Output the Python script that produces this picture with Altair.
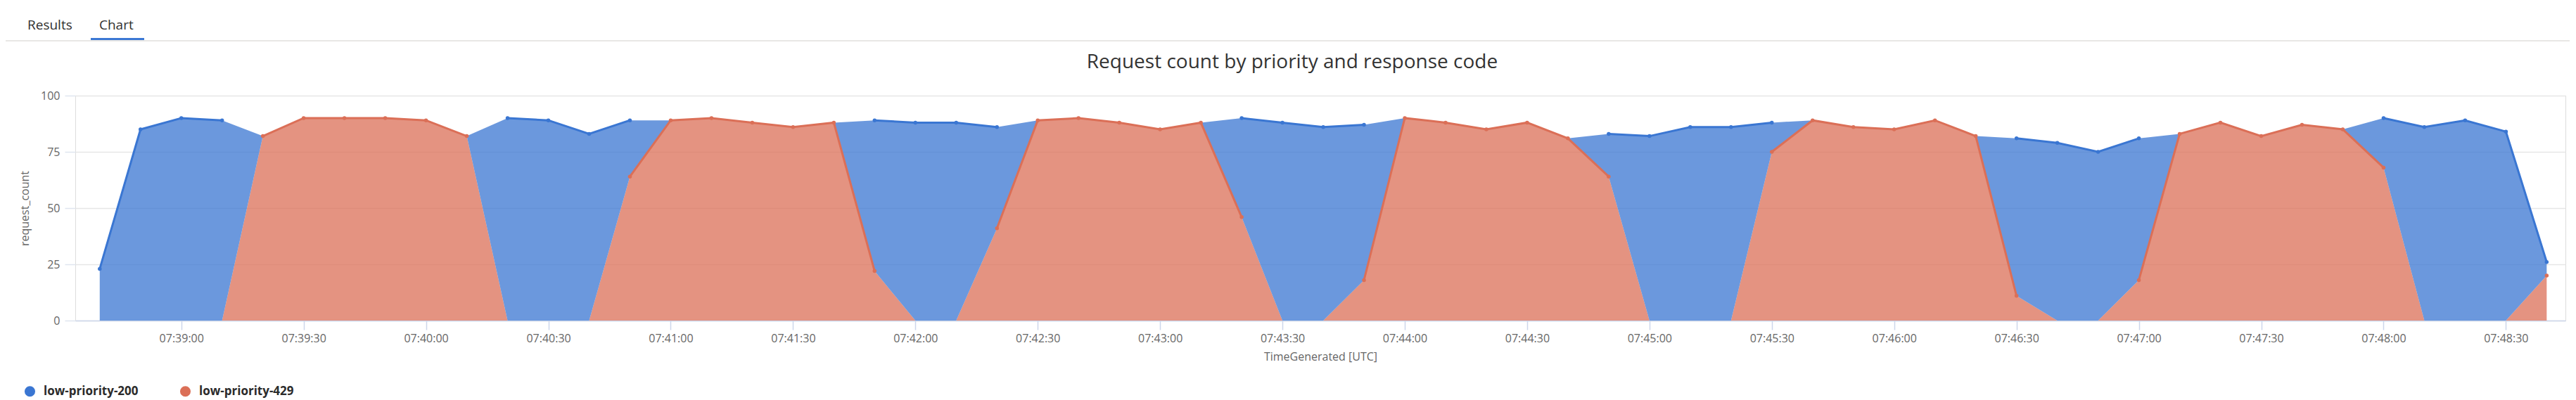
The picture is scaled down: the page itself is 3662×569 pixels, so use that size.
import altair as alt
import pandas as pd

# ---------------- data ----------------
times = [
    "07:38:40", "07:38:50", "07:39:00", "07:39:10", "07:39:20", "07:39:30", "07:39:40", "07:39:50",
    "07:40:00", "07:40:10", "07:40:20", "07:40:30", "07:40:40", "07:40:50", "07:41:00", "07:41:10",
    "07:41:20", "07:41:30", "07:41:40", "07:41:50", "07:42:00", "07:42:10", "07:42:20", "07:42:30",
    "07:42:40", "07:42:50", "07:43:00", "07:43:10", "07:43:20", "07:43:30", "07:43:40", "07:43:50",
    "07:44:00", "07:44:10", "07:44:20", "07:44:30", "07:44:40", "07:44:50", "07:45:00", "07:45:10",
    "07:45:20", "07:45:30", "07:45:40", "07:45:50", "07:46:00", "07:46:10", "07:46:20", "07:46:30",
    "07:46:40", "07:46:50", "07:47:00", "07:47:10", "07:47:20", "07:47:30", "07:47:40", "07:47:50",
    "07:48:00", "07:48:10", "07:48:20", "07:48:30", "07:48:40",
]
low_priority_200 = [
    23, 85, 90, 89, None, None, None, None, None, None,
    90, 89, 83, 25, None, None, None, None, None, 67,
    88, 88, 45, None, None, None, None, None, 44, 88,
    86, 69, None, None, None, None, None, 19, 82, 86,
    86, 13, None, None, None, None, None, 70, 79, 75,
    63, None, None, None, None, None, 22, 86, 89, 84,
    6,
]
low_priority_429 = [
    None, None, None, None, 82, 90, 90, 90, 89, 82,
    None, None, None, 64, 89, 90, 88, 86, 88, 22,
    None, None, 41, 89, 90, 88, 85, 88, 46, None,
    None, 18, 90, 88, 85, 88, 81, 64, None, None,
    None, 75, 89, 86, 85, 89, 82, 11, None, None,
    18, 83, 88, 82, 87, 85, 68, None, None, None,
    20,
]
x_tick_labels = [
    "07:39:00", "07:39:30", "07:40:00", "07:40:30", "07:41:00", "07:41:30", "07:42:00",
    "07:42:30", "07:43:00", "07:43:30", "07:44:00", "07:44:30", "07:45:00", "07:45:30",
    "07:46:00", "07:46:30", "07:47:00", "07:47:30", "07:48:00", "07:48:30",
]
x_range = ["07:38:34", "07:48:44.6"]
series_names = ["low-priority-200", "low-priority-429"]
series_colors = ["#3a76d2", "#db6f57"]
y_ticks = [0, 25, 50, 75, 100]
chart_title = "Request count by priority and response code"
tab_labels = ["Results", "Chart"]
day = "2024-01-01T"


def ms(t):
    return int(pd.Timestamp(day + t + "Z").value // 10**6)


# ---------------- stacking (429 at the bottom, 200 on top) ----------------
rows = []
for i, t in enumerate(times):
    r = low_priority_429[i]
    b = low_priority_200[i]
    r0 = r if r is not None else 0
    b0 = b if b is not None else 0
    rows.append({"time": ms(t), "series": series_names[1], "y0": 0, "y1": r0})
    rows.append({"time": ms(t), "series": series_names[0], "y0": r0, "y1": r0 + b0})
df = pd.DataFrame(rows)

# line segments / points only where a series actually has a value
line_rows = []
for name, vals in [(series_names[0], low_priority_200), (series_names[1], low_priority_429)]:
    seg = 0
    prev_valid = False
    for i, t in enumerate(times):
        valid = vals[i] is not None
        if valid and not prev_valid:
            seg += 1
        if valid:
            r0 = low_priority_429[i] if low_priority_429[i] is not None else 0
            top = r0 + (low_priority_200[i] if low_priority_200[i] is not None else 0)
            y1 = top if name == series_names[0] else r0
            line_rows.append({"time": ms(t), "series": name, "y1": y1, "seg": f"{name}-{seg}"})
        prev_valid = valid
line_df = pd.DataFrame(line_rows)

FONT = "Open Sans"
W, H = 3540, 320

x_scale = alt.Scale(type="utc", domain=[ms(x_range[0]), ms(x_range[1])])
y_scale = alt.Scale(domain=[0, 100], nice=False)
color_scale = alt.Scale(domain=series_names, range=series_colors)

x_enc = alt.X(
    "time:T",
    scale=x_scale,
    title="TimeGenerated [UTC]",
    axis=alt.Axis(
        format="%H:%M:%S",
        values=[ms(t) for t in x_tick_labels],
        grid=False,
        domainColor="#ccd6eb",
        domainWidth=1.5,
        tickColor="#ccd6eb",
        tickWidth=1.5,
        tickSize=13,
        labelPadding=4,
        labelFont=FONT,
        labelFontSize=16,
        labelColor="#666666",
        labelFlush=False,
        labelOverlap=False,
        titleFont=FONT,
        titleFontSize=16,
        titleFontWeight="normal",
        titleColor="#666666",
        titlePadding=10,
    ),
)
y_axis = alt.Axis(
    values=y_ticks,
    domain=False,
    grid=True,
    gridColor="#e6e6e6",
    gridWidth=1.5,
    tickColor="#dfe4ef",
    tickWidth=1.5,
    tickSize=15,
    labelPadding=7,
    labelFont=FONT,
    labelFontSize=16,
    labelColor="#666666",
    titleFont=FONT,
    titleFontSize=16,
    titleFontWeight="normal",
    titleColor="#666666",
    titlePadding=14,
)
color_enc = alt.Color(
    "series:N",
    scale=color_scale,
    legend=alt.Legend(
        title=None,
        orient="none",
        direction="horizontal",
        legendX=-73,
        legendY=412,
        symbolType="circle",
        symbolSize=227,
        symbolOpacity=1,
        symbolStrokeWidth=0,
        labelFont=FONT,
        labelFontSize=17,
        labelFontWeight="bold",
        labelColor="#2b2b2b",
        labelOffset=11,
        columnPadding=58,
    ),
)

areas = alt.Chart(df).mark_area(opacity=0.75, interpolate="linear").encode(
    x=x_enc,
    y=alt.Y("y1:Q", scale=y_scale, axis=y_axis, title="request_count"),
    y2="y0:Q",
    color=color_enc,
)
lines = alt.Chart(line_df).mark_line(strokeWidth=3).encode(
    x="time:T",
    y="y1:Q",
    color=alt.Color("series:N", scale=color_scale, legend=None),
    detail="seg:N",
)
points = alt.Chart(line_df).mark_circle(size=30, opacity=1).encode(
    x="time:T",
    y="y1:Q",
    color=alt.Color("series:N", scale=color_scale, legend=None),
)

# ---------------- page chrome (tabs + heading) ----------------
one = pd.DataFrame({"k": [0]})
sep = alt.Chart(one).mark_rule(color="#e1dfdd", strokeWidth=1.5).encode(
    x=alt.value(-99), x2=alt.value(W + 6), y=alt.value(-78)
)
underline = alt.Chart(one).mark_rule(color="#3b78d4", strokeWidth=3).encode(
    x=alt.value(22), x2=alt.value(98), y=alt.value(-80.5)
)
tab_results = alt.Chart(one).mark_text(
    text=tab_labels[0], font=FONT, fontSize=19, color="#323130", align="left", baseline="alphabetic"
).encode(x=alt.value(-68), y=alt.value(-94))
tab_chart = alt.Chart(one).mark_text(
    text=tab_labels[1], font=FONT, fontSize=19, color="#323130", align="left", baseline="alphabetic"
).encode(x=alt.value(34), y=alt.value(-94))
heading = alt.Chart(one).mark_text(
    text=chart_title, font=FONT, fontSize=28, color="#333333", align="center", baseline="alphabetic"
).encode(x=alt.value(1730), y=alt.value(-39))

chart = (
    alt.layer(areas, lines, points, sep, underline, tab_results, tab_chart, heading)
    .properties(
        width=W,
        height=H,
        autosize=alt.AutoSizeParams(type="none"),
        padding={"left": 99, "top": 128, "right": 6, "bottom": 121},
    )
    .configure_view(stroke=None)
    .configure(background="white")
)

chart.save("out.html", embed_options={"renderer": "svg", "actions": False})
